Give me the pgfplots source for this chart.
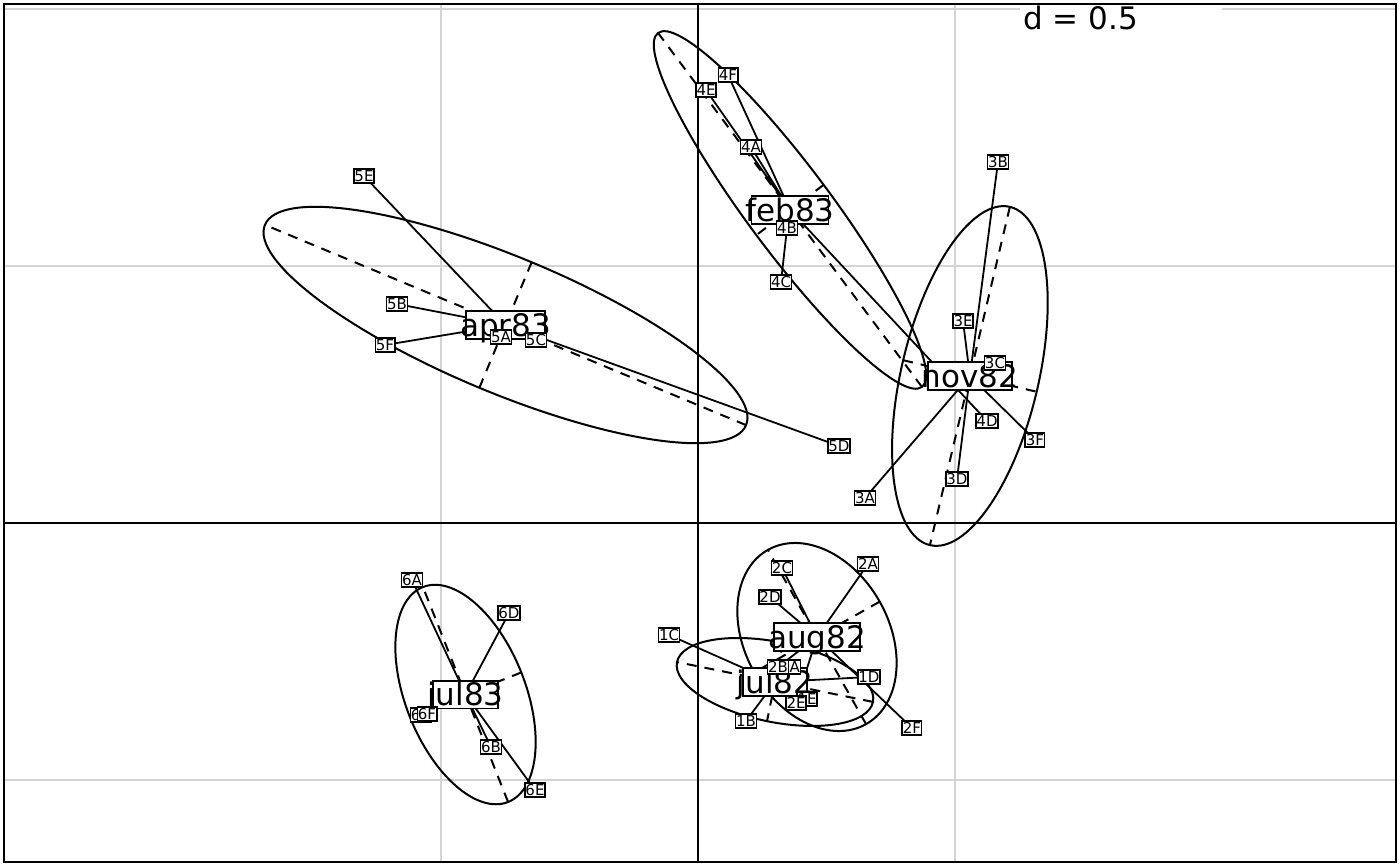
\documentclass[border=0pt]{standalone}
\usepackage{fontspec}
\setmainfont{DejaVu Sans}
\usepackage{pgfplots}
\usepackage{pgfplotstable}
\pgfplotsset{compat=1.18}

% points: x y label
\pgfplotstableread{
x y label
0.1790 -0.2800 1A
0.0934 -0.3852 1B
-0.0564 -0.2179 1C
0.3327 -0.2996 1D
0.2121 -0.3424 1E
}\gOne
\pgfplotstableread{
x y label
0.3307 -0.0798 2A
0.1556 -0.2802 2B
0.1634 -0.0875 2C
0.1401 -0.1440 2D
0.1907 -0.3502 2E
0.4163 -0.3988 2F
}\gTwo
\pgfplotstableread{
x y label
0.3249 0.0486 3A
0.5837 0.7023 3B
0.5778 0.3113 3C
0.5039 0.0856 3D
0.5156 0.3930 3E
0.6556 0.1615 3F
}\gThree
\pgfplotstableread{
x y label
0.1031 0.7315 4A
0.1732 0.5739 4B
0.1615 0.4689 4C
0.5623 0.1984 4D
0.0156 0.8424 4E
0.0584 0.8716 4F
}\gFour
\pgfplotstableread{
x y label
-0.3833 0.3619 5A
-0.5856 0.4261 5B
-0.3152 0.3560 5C
0.2743 0.1498 5D
-0.6498 0.6751 5E
-0.6089 0.3463 5F
}\gFive
\pgfplotstableread{
x y label
-0.5564 -0.1109 6A
-0.4027 -0.4358 6B
-0.5390 -0.3735 6C
-0.3677 -0.1751 6D
-0.3171 -0.5195 6E
-0.5272 -0.3716 6F
}\gSix
\pgfplotstableread{
x y label
0.1498 -0.3093 jul82
0.2315 -0.2218 aug82
0.5290 0.2860 nov82
0.1790 0.6090 feb83
-0.3745 0.3852 apr83
-0.4523 -0.3337 jul83
}\cents

\newcommand{\grpell}[5]{%
 \draw[line width=1pt, rotate around={#5:(axis cs:#1,#2)}] (axis cs:#1,#2) ellipse [x radius=#3pt, y radius=#4pt];
 \draw[line width=1pt, dash pattern=on 5pt off 4pt] ([shift={(#5:#3pt)}]axis cs:#1,#2) -- ([shift={(#5+180:#3pt)}]axis cs:#1,#2);
 \draw[line width=1pt, dash pattern=on 5pt off 4pt] ([shift={(#5+90:#4pt)}]axis cs:#1,#2) -- ([shift={(#5-90:#4pt)}]axis cs:#1,#2);
}

\pgfplotsset{
 starline/.style={black, line width=0.9pt, mark=none, unbounded coords=jump, forget plot},
 ptlabels/.style={draw=none, mark=none, forget plot, point meta=explicit symbolic,
   nodes near coords={\pgfplotspointmeta},
   every node near coord/.style={anchor=center, draw=black, fill=white, line width=0.8pt,
     inner xsep=0.3pt, inner ysep=0.8pt, text height=5.4pt, text depth=0pt,
     font=\fontsize{7.5}{7.5}\selectfont}},
 cenlabels/.style={draw=none, mark=none, forget plot, point meta=explicit symbolic,
   nodes near coords={\pgfplotspointmeta},
   every node near coord/.style={anchor=center, draw=black, fill=white, line width=0.9pt,
     inner xsep=-3pt, inner ysep=1.3pt, text height=11.3pt, text depth=0pt,
     font=\fontsize{15.5}{15.5}\selectfont}},
}

\begin{document}
\begin{tikzpicture}
\begin{axis}[
 scale only axis, width=696pt, height=429pt,
 xmin=-1.3502, xmax=1.3580, ymin=-0.6595, ymax=1.0097,
 xtick={-0.5,0.5}, ytick={-0.5,0.5,1},
 xticklabels={}, yticklabels={}, major tick length=0pt,
 tick label style={inner sep=0pt, font=\tiny},
 grid=major, grid style={line width=1pt, color=black!17},
 axis line style={line width=1pt},
]
% origin axes
\draw[black, line width=1pt] (axis cs:0,-0.6595) -- (axis cs:0,1.0097);
\draw[black, line width=1pt] (axis cs:-1.3502,0) -- (axis cs:1.3580,0);

% ellipses with dashed principal axes
\grpell{-0.3745}{0.3852}{130.3}{34}{-22.6}
\grpell{0.1790}{0.6090}{110.4}{21}{-53.3}
\grpell{0.5290}{0.2860}{86.9}{34.3}{76.7}
\grpell{-0.4523}{-0.3337}{57.8}{30}{-68.4}
\grpell{0.2315}{-0.2218}{50}{36}{-60.6}
\grpell{0.1498}{-0.3093}{50}{20}{-11.5}

% stars
\addplot[starline] coordinates {(0.1498,-0.3093) (0.1790,-0.2800) (nan,nan)
 (0.1498,-0.3093) (0.0934,-0.3852) (nan,nan) (0.1498,-0.3093) (-0.0564,-0.2179) (nan,nan)
 (0.1498,-0.3093) (0.3327,-0.2996) (nan,nan) (0.1498,-0.3093) (0.2121,-0.3424)};
\addplot[starline] coordinates {(0.2315,-0.2218) (0.3307,-0.0798) (nan,nan)
 (0.2315,-0.2218) (0.1556,-0.2802) (nan,nan) (0.2315,-0.2218) (0.1634,-0.0875) (nan,nan)
 (0.2315,-0.2218) (0.1401,-0.1440) (nan,nan) (0.2315,-0.2218) (0.1907,-0.3502) (nan,nan)
 (0.2315,-0.2218) (0.4163,-0.3988)};
\addplot[starline] coordinates {(0.5290,0.2860) (0.3249,0.0486) (nan,nan)
 (0.5290,0.2860) (0.5837,0.7023) (nan,nan) (0.5290,0.2860) (0.5778,0.3113) (nan,nan)
 (0.5290,0.2860) (0.5039,0.0856) (nan,nan) (0.5290,0.2860) (0.5156,0.3930) (nan,nan)
 (0.5290,0.2860) (0.6556,0.1615)};
\addplot[starline] coordinates {(0.1790,0.6090) (0.1031,0.7315) (nan,nan)
 (0.1790,0.6090) (0.1732,0.5739) (0.1615,0.4689) (nan,nan)
 (0.1790,0.6090) (0.5623,0.1984) (nan,nan) (0.1790,0.6090) (0.0156,0.8424) (nan,nan)
 (0.1790,0.6090) (0.0584,0.8716)};
\addplot[starline] coordinates {(-0.3745,0.3852) (-0.3833,0.3619) (nan,nan)
 (-0.3745,0.3852) (-0.5856,0.4261) (nan,nan) (-0.3745,0.3852) (-0.3152,0.3560) (nan,nan)
 (-0.3745,0.3852) (0.2743,0.1498) (nan,nan) (-0.3745,0.3852) (-0.6498,0.6751) (nan,nan)
 (-0.3745,0.3852) (-0.6089,0.3463)};
\addplot[starline] coordinates {(-0.4523,-0.3337) (-0.5564,-0.1109) (nan,nan)
 (-0.4523,-0.3337) (-0.4027,-0.4358) (nan,nan) (-0.4523,-0.3337) (-0.5390,-0.3735) (nan,nan)
 (-0.4523,-0.3337) (-0.3677,-0.1751) (nan,nan) (-0.4523,-0.3337) (-0.3171,-0.5195) (nan,nan)
 (-0.4523,-0.3337) (-0.5272,-0.3716)};

% centroid labels
\addplot[cenlabels] table[x=x, y=y, meta=label] {\cents};

% point labels
\addplot[ptlabels] table[x=x, y=y, meta=label] {\gOne};
\addplot[ptlabels] table[x=x, y=y, meta=label] {\gTwo};
\addplot[ptlabels] table[x=x, y=y, meta=label] {\gThree};
\addplot[ptlabels] table[x=x, y=y, meta=label] {\gFour};
\addplot[ptlabels] table[x=x, y=y, meta=label] {\gFive};
\addplot[ptlabels] table[x=x, y=y, meta=label] {\gSix};

% scale box
\fill[white] (axis cs:0.6265,1.0070) rectangle (axis cs:1.0195,0.951);
\node[anchor=base west, inner sep=0pt, font=\fontsize{15.5}{15.5}\selectfont] at (axis cs:0.6323,0.9591) {d = 0.5};
\end{axis}
\pgfresetboundingbox
\path ([shift={(-2pt,-2pt)}]current axis.south west) rectangle ([shift={(2pt,2pt)}]current axis.north east);
\end{tikzpicture}
\end{document}
